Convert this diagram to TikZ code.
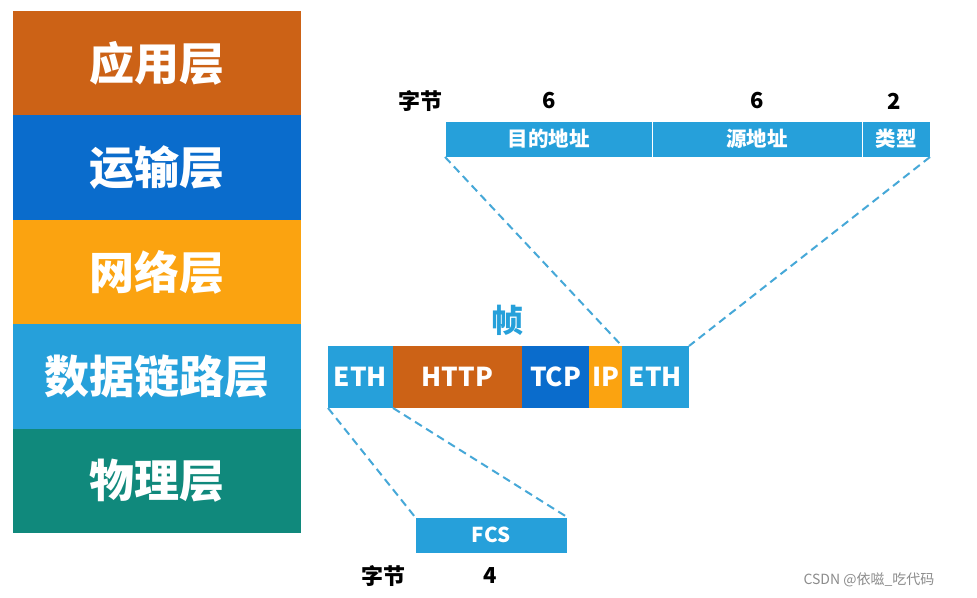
\documentclass[tikz,border=0pt]{standalone}
\usepackage{fontspec}
\setmainfont{Noto Sans CJK SC}
\definecolor{appOrange}{RGB}{204,98,22}
\definecolor{tBlue}{RGB}{10,108,204}
\definecolor{nYellow}{RGB}{251,163,16}
\definecolor{dBlue}{RGB}{38,160,218}
\definecolor{pTeal}{RGB}{16,137,124}
\definecolor{dashBlue}{RGB}{70,168,216}
\tikzset{
  blk/.style={anchor=north west, inner sep=0pt, outer sep=0pt, text=white, align=center},
  layerbox/.style={blk, minimum width=288pt, minimum height=104.4pt, font=\fontsize{45}{45}\selectfont\bfseries},
  framebox/.style={blk, minimum height=62pt, font=\fontsize{26}{26}\selectfont\bfseries},
  hdrbox/.style={blk, fill=dBlue, draw=white, line width=0.8pt, minimum height=36pt, font=\fontsize{20.5}{20.5}\selectfont\bfseries},
  lbl/.style={inner sep=0pt, font=\fontsize{22}{22}\selectfont\bfseries, text=black},
  conn/.style={draw=dashBlue, line width=2pt, dash pattern=on 8pt off 5pt},
}
\begin{document}
\begin{tikzpicture}[x=1pt,y=-1pt]
\useasboundingbox (0,0) rectangle (977,597);
\fill[white] (0,0) rectangle (977,597);
% layer stack
\node[layerbox, fill=appOrange] (app) at (13,11) {应用层};
\node[layerbox, fill=tBlue] (trans) at (13,115.4) {运输层};
\node[layerbox, fill=nYellow] (net) at (13,219.8) {网络层};
\node[layerbox, fill=dBlue] (link) at (13,324.2) {数据链路层};
\node[layerbox, fill=pTeal] (phys) at (13,428.6) {物理层};
% frame
\node[inner sep=0pt, text=dBlue, font=\fontsize{32}{32}\selectfont\bfseries] (zhen) at (507,320) {帧};
\node[framebox, fill=dBlue, minimum width=65pt] (eth1) at (328,346) {ETH};
\node[framebox, fill=appOrange, minimum width=129pt] (http) at (393,346) {HTTP};
\node[framebox, fill=tBlue, minimum width=67pt] (tcp) at (522,346) {TCP};
\node[framebox, fill=nYellow, minimum width=33pt] (ip) at (589,346) {IP};
\node[framebox, fill=dBlue, minimum width=67pt] (eth2) at (622,346) {ETH};
% header
\node[hdrbox, minimum width=207pt] (dst) at (445,121) {目的地址};
\node[hdrbox, minimum width=210pt] (src) at (652,121) {源地址};
\node[hdrbox, minimum width=68pt] (typ) at (862,121) {类型};
\node[lbl] (zj1) at (420,101) {字节};
\node[lbl] (n1) at (549,101) {6};
\node[lbl] (n2) at (757,101) {6};
\node[lbl] (n3) at (894,101) {2};
% trailer
\node[hdrbox, minimum width=152pt] (fcs) at (415,517) {FCS};
\node[lbl] (zj2) at (383,576) {字节};
\node[lbl] (n4) at (490,576) {4};
% connectors
\draw[conn] (dst.south west) -- (eth2.north west);
\draw[conn] (typ.south east) -- (eth2.north east);
\draw[conn] (eth1.south west) -- (fcs.north west);
\draw[conn] (eth1.south east) -- (fcs.north east);
% watermark
\node[inner sep=0pt, text=black!45, font=\fontsize{14}{14}\selectfont] (wm) at (869,580) {CSDN @依嗞\_吃代码};
\end{tikzpicture}
\end{document}
